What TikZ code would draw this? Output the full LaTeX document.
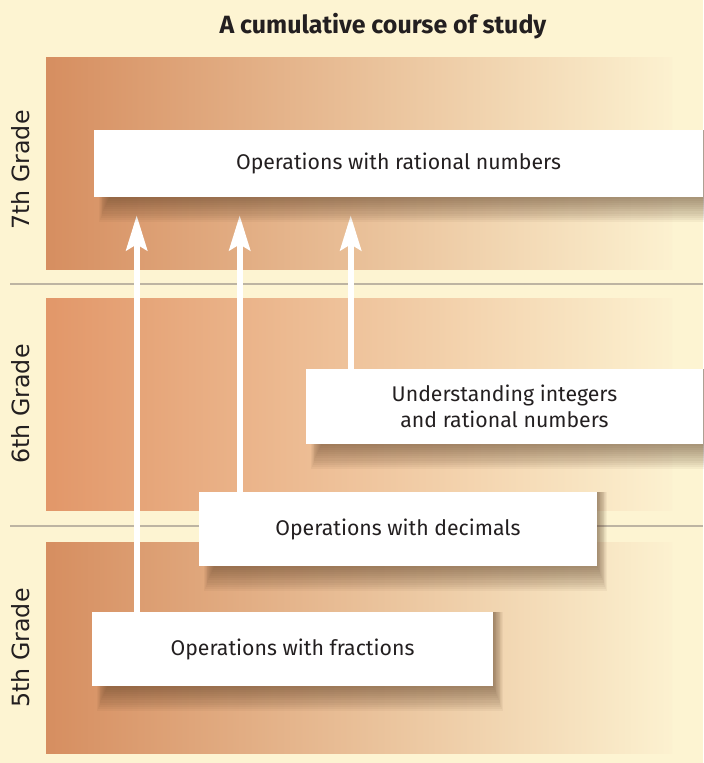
\documentclass[tikz,border=0pt]{standalone}
\usepackage{fontspec}
\setmainfont{Fira Sans}
\newfontfamily\gradefont{DejaVu Sans}
\usetikzlibrary{arrows.meta,backgrounds}

\definecolor{paper}{HTML}{FDF4D2}
\definecolor{inkdark}{HTML}{231F20}
\definecolor{rule}{HTML}{BDB4A2}
\definecolor{clay}{HTML}{D68E60}
\definecolor{apricot}{HTML}{E29769}
\definecolor{sand}{HTML}{EBC59C}
\definecolor{fadeout}{HTML}{FCF1D0}
\definecolor{umber}{HTML}{5A3E26}

\pgfdeclarelayer{shadowlayer}
\pgfsetlayers{background,shadowlayer,main}

\begin{document}
\begin{tikzpicture}[x=0.02cm, y=-0.02cm, >=Stealth,
  font=\fontsize{12.1}{14.5}\selectfont\color{inkdark},
  band/.style={left color=#1, middle color=sand, right color=fadeout, draw=none},
  topic/.style={fill=white, align=center, inner sep=0pt},
  grade/.style={rotate=90, font=\gradefont\fontsize{13.5}{15}\selectfont\color{inkdark}},
  uparrow/.style={draw=white, line width=3.4pt, shorten >=0.36cm,
    -{Stealth[length=7mm, width=4.2mm, inset=1.2mm]}}]
  \useasboundingbox (0,0) rectangle (703,763);

  % title
  \node[font=\fontsize{14.2}{17}\bfseries\color{inkdark}] (title) at (383,26) {A cumulative course of study};

  \node[grade] (g7) at (21,170) {7th Grade};
  \node[grade] (g6) at (21,404) {6th Grade};
  \node[grade] (g5) at (21,648) {5th Grade};

  % topics
  \node[topic, minimum width=12.18cm, minimum height=1.34cm] (rat) at (398.5,163.5) {Operations with rational numbers};
  \node[topic, minimum width=7.94cm, minimum height=1.5cm] (int) at (504.5,406.5) {Understanding integers\\and rational numbers};
  \node[topic, minimum width=7.96cm, minimum height=1.48cm] (dec) at (398,529) {Operations with decimals};
  \node[topic, minimum width=8.02cm, minimum height=1.48cm] (frac) at (292.5,649) {Operations with fractions};

  % arrows into 7th grade
  \coordinate (fa) at ([xshift=0.9cm]frac.north west);
  \coordinate (da) at ([xshift=0.82cm]dec.north west);
  \coordinate (ia) at ([xshift=0.9cm]int.north west);
  \begin{pgfonlayer}{shadowlayer}
    \draw[uparrow] (fa) -- (fa |- rat.south);
    \draw[uparrow] (da) -- (da |- rat.south);
    \draw[uparrow] (ia) -- (ia |- rat.south);
  \end{pgfonlayer}

  % soft shadows under the topics
  \begin{pgfonlayer}{shadowlayer}
    \foreach \n in {rat,int,dec,frac}
      \foreach \k in {1,...,12}
        \fill[umber, opacity=0.055]
          ([xshift=9pt-\k*0.5pt]\n.north west) rectangle ([xshift=\k*0.45pt, yshift=-\k*1.15pt]\n.south east);
  \end{pgfonlayer}

  % grade bands
  \begin{pgfonlayer}{background}
    \fill[paper] (0,0) rectangle (703,763);
    \shade[band=clay] (46,58) rectangle (672,270);
    \shade[band=apricot] (46,298) rectangle (672,510);
    \shade[band=clay] (46,542) rectangle (672,753);
    \draw[rule, line width=0.6pt] (10,284) -- (703,284);
    \draw[rule, line width=0.6pt] (10,526) -- (703,526);
  \end{pgfonlayer}
\end{tikzpicture}
\end{document}
